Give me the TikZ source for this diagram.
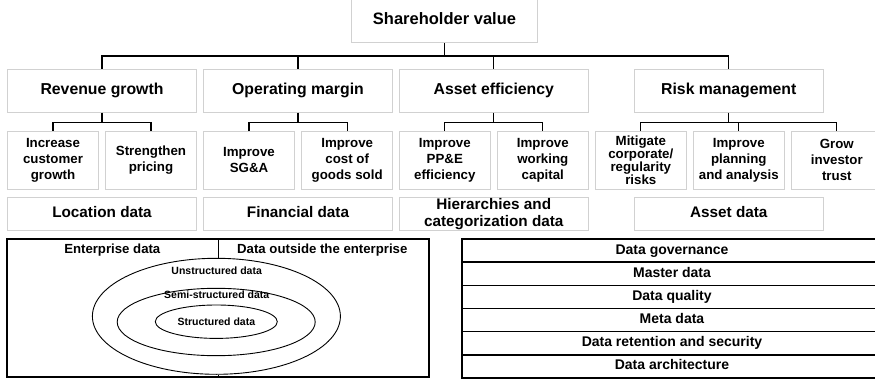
\documentclass[tikz,border=0pt]{standalone}
\usepackage{fontspec}
\setmainfont{Liberation Sans}
\usetikzlibrary{shapes.geometric}

\definecolor{boxgray}{gray}{0.82}
\tikzset{
  box/.style={draw=boxgray, line width=0.8pt, align=center, inner sep=1pt, font=\bfseries},
  oneline/.style={text height=0.72em, text depth=0pt},
  goal/.style={box, oneline, minimum width=189pt, minimum height=43pt, font=\bfseries\fontsize{15.8}{18}\selectfont},
  lever/.style={box, minimum width=91pt, minimum height=58pt, font=\bfseries\fontsize{13.3}{16}\selectfont},
  source/.style={box, minimum width=189pt, minimum height=33.4pt, font=\bfseries\fontsize{15.3}{16.5}\selectfont},
  link/.style={line width=1.1pt},
  frame/.style={draw, line width=1.8pt},
  layer/.style={draw, ellipse, line width=0.9pt, inner sep=0pt},
  tier/.style={frame, oneline, minimum width=420.6pt, minimum height=23.07pt, inner sep=0pt, font=\bfseries\fontsize{14}{16}\selectfont},
}

\begin{document}
\begin{tikzpicture}[x=1pt, y=-1pt]
  \path[use as bounding box, clip] (0,0) rectangle (875,379);

  % value tree
  \node[box, oneline, minimum width=185.6pt, minimum height=43pt, font=\bfseries\fontsize{16.5}{18}\selectfont] (sv) at (444.5,21.3) {Shareholder value};

  \node[goal] (rev)  at (102,90.8)   {Revenue growth};
  \node[goal] (opm)  at (298,90.8)   {Operating margin};
  \node[goal] (aeff) at (493.8,90.8) {Asset efficiency};
  \node[goal] (risk) at (728.8,90.8) {Risk management};

  \node[lever] (inc)  at (53,160.2)    {Increase\\customer\\growth};
  \node[lever] (pri)  at (151,160.2)   {Strengthen\\pricing};
  \node[lever] (sga)  at (249,160.2)   {Improve\\SG\&A};
  \node[lever] (cogs) at (347.2,160.2) {Improve\\cost of\\goods sold};
  \node[lever] (ppe)  at (444.8,160.2) {Improve\\PP\&E\\efficiency};
  \node[lever] (wc)   at (542.8,160.2) {Improve\\working\\capital};
  \node[lever, font=\bfseries\fontsize{13.3}{13.3}\selectfont] (mit) at (640.8,160.2) {Mitigate\\corporate/\\regularity\\risks};
  \node[lever] (plan) at (738.8,160.2) {Improve\\planning\\and analysis};
  \node[lever] (grow) at (836.8,160.2) {Grow\\investor\\trust};

  \node[source, oneline] (loc)   at (102,214)   {Location data};
  \node[source, oneline] (fin)   at (298,214)   {Financial data};
  \node[source] (hier)  at (493.8,214) {Hierarchies and\\categorization data};
  \node[source, oneline] (asset) at (728.8,214) {Asset data};

  \coordinate (spine) at (0,56);
  \draw[link] (sv.south) -- (sv.south |- spine);
  \draw[link] (rev.north) |- (spine -| risk.north) -- (risk.north);
  \foreach \g in {opm, aeff}
    \draw[link] (\g.north) -- (\g.north |- spine);

  \foreach \g/\a/\b in {rev/inc/pri, opm/sga/cogs, aeff/ppe/wc, risk/mit/grow}
    \draw[link] (\g.south) -- ++(0,9.7) coordinate (fork) (\a.north) |- (fork) -| (\b.north);
  \draw[link] (plan.north) -- ++(0,-9);

  % data pool
  \node[frame, minimum width=421.7pt, minimum height=138pt] (pool) at (218.2,308) {};
  \node[layer, minimum width=248pt, minimum height=116pt] (outer) at (216.4,316.3) {};
  \node[layer, minimum width=198pt, minimum height=67.4pt] (middle) at (216.2,322) {};
  \node[layer, minimum width=122pt, minimum height=33.4pt, font=\bfseries\fontsize{10.5}{12}\selectfont] (inner) at (216.3,321.7) {Structured data};
  \draw[line width=0.9pt] (pool.north) -- (pool.north |- outer.north);
  \draw[line width=0.9pt] (pool.south |- outer.south) -- (pool.south);

  \node[font=\bfseries\fontsize{13.2}{15}\selectfont] (ent) at (112.3,250) {Enterprise data};
  \node[font=\bfseries\fontsize{13.2}{15}\selectfont] (ext) at (322.3,250) {Data outside the enterprise};
  \node[font=\bfseries\fontsize{10.5}{12}\selectfont] (unstr) at (216.7,271) {Unstructured data};
  \node[font=\bfseries\fontsize{10.5}{12}\selectfont] (semi)  at (216.7,294.3) {Semi-structured data};

  % disciplines
  \foreach \t [count=\i] in {Data governance, Master data, Data quality, Meta data, Data retention and security, Data architecture}
    \node[tier] (tier\i) at (672,{239.3+23.07*(\i-0.5)}) {\t};
\end{tikzpicture}
\end{document}
